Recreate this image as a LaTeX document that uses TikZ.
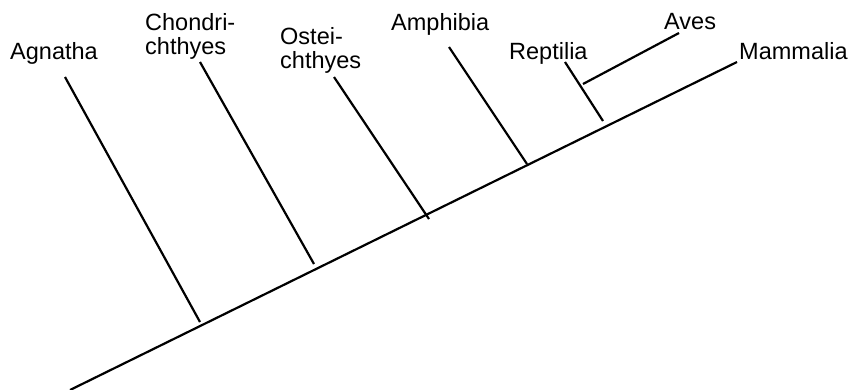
\documentclass[tikz,border=0pt]{standalone}
\usepackage{fontspec}
\setmainfont{Liberation Sans}
\begin{document}
\begin{tikzpicture}[x=1pt,y=-1pt,
  branch/.style={line width=2.2pt,black},
  taxon/.style={inner sep=0pt,anchor=north west,align=left,
    font=\fontsize{23.5}{24.5}\selectfont}]
\useasboundingbox (0,0) rectangle (851,389);
% labels
\node[taxon] (agn) at (10,42) {Agnatha};
\node[taxon] (cho) at (145,13) {Chondri-\\chthyes};
\node[taxon] (ost) at (280,27) {Ostei-\\chthyes};
\node[taxon] (amp) at (391,13) {Amphibia};
\node[taxon] (rep) at (509,42) {Reptilia};
\node[taxon] (ave) at (664,13) {Aves};
\node[taxon] (mam) at (739,42) {Mammalia};
% main stem
\coordinate (root) at (70,390);
\coordinate (mtop) at (737,62);
\draw[branch] (root) -- (mtop);
% branch tops
\coordinate (agnT) at (65,77);
\coordinate (choT) at (200,62);
\coordinate (ostT) at (334,77);
\coordinate (ampT) at (449,47);
\coordinate (repT) at (565,62);
\coordinate (aveT) at (679,33);
% branch bottoms
\coordinate (agnB) at (200,322);
\coordinate (choB) at (314,264);
\coordinate (ostB) at (429,219);
\coordinate (ampB) at (527,164);
\coordinate (repB) at (603,121);
\coordinate (aveB) at (583,84);
\draw[branch] (agnT) -- (agnB);
\draw[branch] (choT) -- (choB);
\draw[branch] (ostT) -- (ostB);
\draw[branch] (ampT) -- (ampB);
\draw[branch] (repT) -- (repB);
\draw[branch] (aveB) -- (aveT);
\end{tikzpicture}
\end{document}
